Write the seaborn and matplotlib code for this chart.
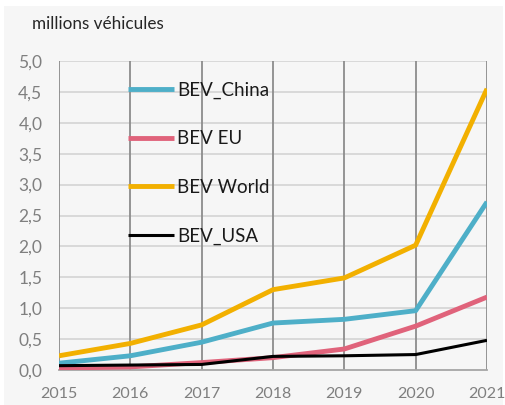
import matplotlib
matplotlib.use("Agg")
import matplotlib.pyplot as plt
from matplotlib.patches import Rectangle
import pandas as pd
import seaborn as sns

years = [2015, 2016, 2017, 2018, 2019, 2020, 2021]
bev_china = [0.11, 0.23, 0.45, 0.76, 0.82, 0.96, 2.72]
bev_eu = [0.03, 0.05, 0.12, 0.20, 0.34, 0.71, 1.18]
bev_world = [0.23, 0.43, 0.73, 1.30, 1.49, 2.02, 4.55]
bev_usa = [0.07, 0.08, 0.09, 0.22, 0.23, 0.25, 0.48]
series_names = ["BEV_China", "BEV EU", "BEV World", "BEV_USA"]
y_ticks = [0.0, 0.5, 1.0, 1.5, 2.0, 2.5, 3.0, 3.5, 4.0, 4.5, 5.0]

df = pd.DataFrame({
    "year": years * 4,
    "value": bev_china + bev_eu + bev_world + bev_usa,
    "series": sum([[n] * len(years) for n in series_names], []),
})

palette = {"BEV_China": "#4eafc8", "BEV EU": "#e0637b",
           "BEV World": "#f2b000", "BEV_USA": "#000000"}

sns.set_theme(style="white")
plt.rcParams["font.family"] = ["Lato", "DejaVu Sans"]

fig = plt.figure(figsize=(5.05, 4.05), dpi=100)
fig.patch.set_facecolor("white")
fig.patches.append(Rectangle((4 / 505, 0), 499 / 505, 1 - 6 / 405,
                             transform=fig.transFigure, facecolor="#f6f6f6",
                             edgecolor="none", zorder=-10))
ax = fig.add_axes([59 / 505, 1 - 370 / 405, 428 / 505, 309 / 405])
ax.set_facecolor("none")

sns.lineplot(data=df, x="year", y="value", hue="series", palette=palette,
             hue_order=series_names, ax=ax, linewidth=3.5, legend=False,
             zorder=3)
for line, name in zip(ax.get_lines(), series_names):
    if name == "BEV_USA":
        line.set_linewidth(2.2)
        line.set_zorder(4)
    line.set_solid_capstyle("butt")

ax.set_xlim(2015, 2021)
ax.set_ylim(0, 5.0)
ax.set_xticks(years)
ax.set_xticklabels([str(y) for y in years])
ax.set_yticks(y_ticks)
ax.set_yticklabels([f"{v:.1f}".replace(".", ",") for v in y_ticks])
ax.tick_params(axis="both", length=0, colors="#7f7f7f")
ax.tick_params(axis="x", pad=12, labelsize=11.5)
ax.tick_params(axis="y", pad=12, labelsize=12.5)
ax.set_xlabel("")
ax.set_ylabel("")

# Light horizontal gridlines, darker vertical gridlines
for v in y_ticks[1:]:
    ax.axhline(v, color="#d6d6d6", linewidth=1.3, zorder=1)
for yr in years:
    ax.axvline(yr, color="#8c8c8c", linewidth=1.3, zorder=2)
for side in ["top", "right", "left"]:
    ax.spines[side].set_visible(False)
ax.spines["bottom"].set_color("#a6a6a6")
ax.spines["bottom"].set_linewidth(1.3)

handles = [plt.Line2D([], [], color=palette[n],
                      linewidth=2.2 if n == "BEV_USA" else 3.5,
                      solid_capstyle="butt") for n in series_names]
leg = ax.legend(handles, series_names, loc="upper left",
                bbox_to_anchor=(61 / 428, 1 - 13 / 309), frameon=False,
                fontsize=13.5, handlelength=2.5, handletextpad=0.15,
                labelspacing=1.68, borderaxespad=0)
for t in leg.get_texts():
    t.set_color("#1a1a1a")

fig.text(32 / 505, 1 - 24 / 405, "millions véhicules", fontsize=12.3,
         color="#262626", va="center", ha="left")

fig.savefig("out.png", dpi=100)
